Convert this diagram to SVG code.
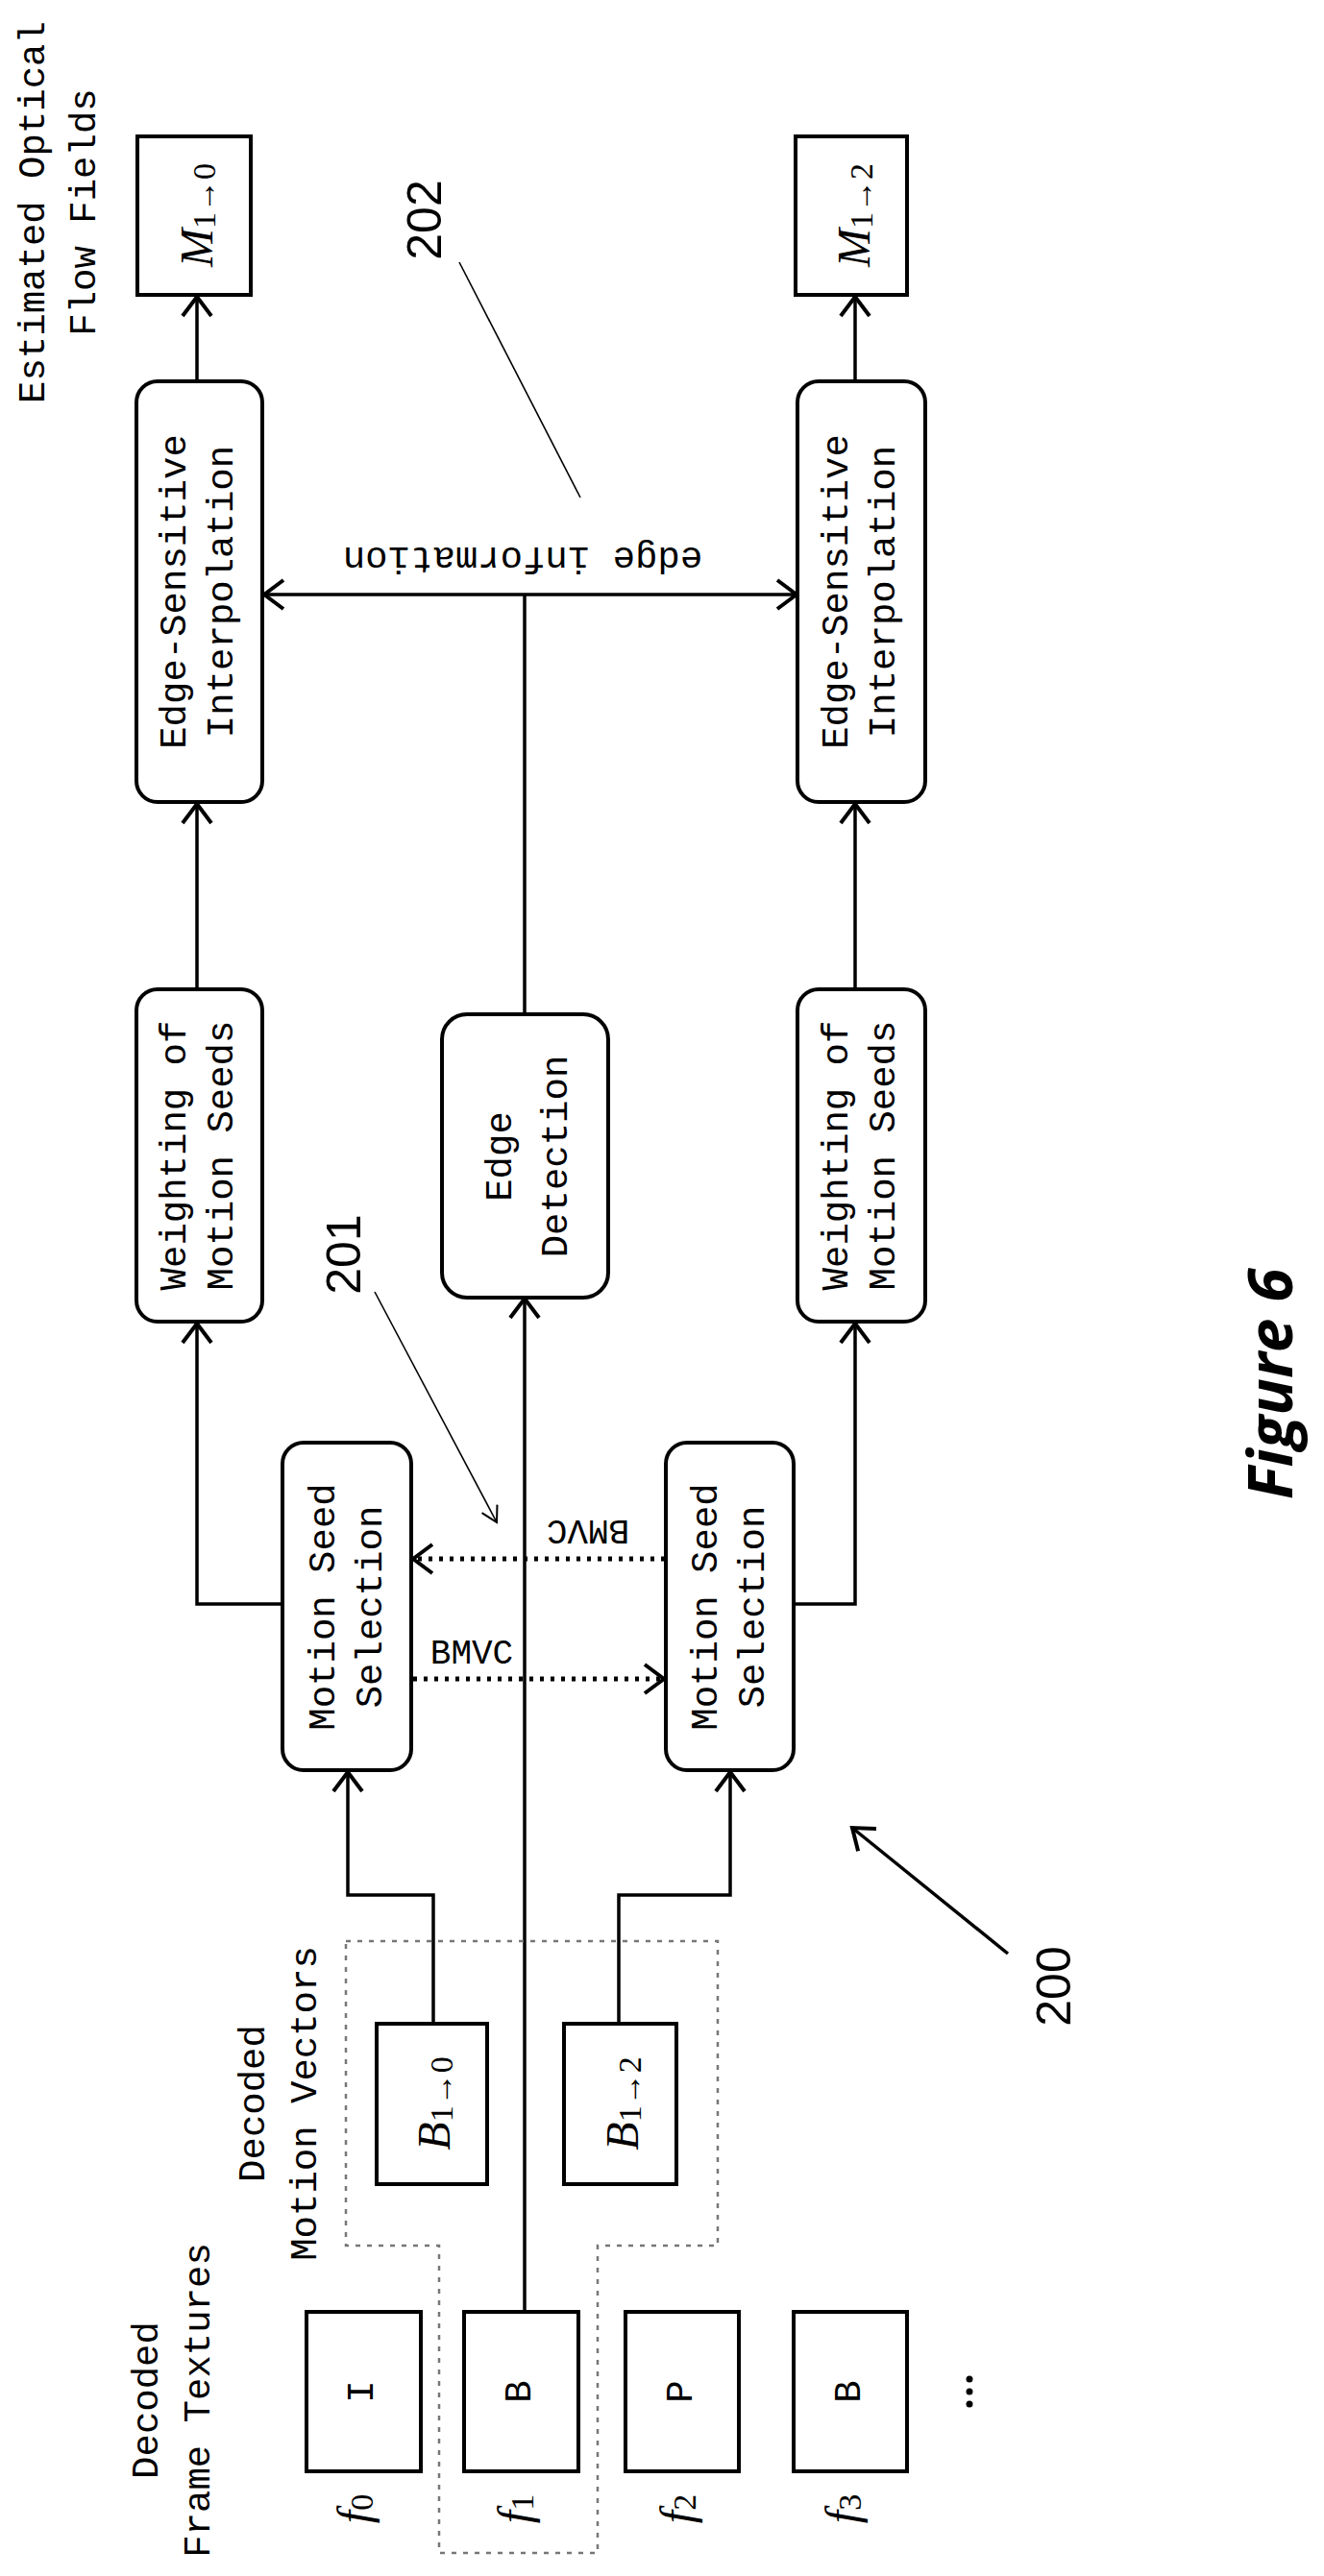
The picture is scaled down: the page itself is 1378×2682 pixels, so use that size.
<svg xmlns="http://www.w3.org/2000/svg" width="1378" height="2682" viewBox="0 0 1378 2682">
<style>
.box{fill:#fff;stroke:#000;stroke-width:4}
.ln{fill:none;stroke:#000;stroke-width:3.5}
.dot{fill:none;stroke:#000;stroke-width:5;stroke-dasharray:4 7}
.thin{fill:none;stroke:#000;stroke-width:1.6}
.mono{font-family:"Liberation Mono",monospace;font-size:39px;fill:#000;text-anchor:middle;dominant-baseline:central}
.sans{font-family:"Liberation Sans",Arial,sans-serif;font-size:50px;fill:#000;text-anchor:middle;dominant-baseline:central}
.math{font-family:"Liberation Serif",serif;font-style:italic;font-size:48px;fill:#000;text-anchor:middle;dominant-baseline:central}
.sub{font-size:34px;font-style:normal}
</style>
<defs>
<marker id="ah" markerUnits="userSpaceOnUse" markerWidth="34" markerHeight="34" viewBox="0 0 34 34" refX="31" refY="17" orient="auto">
<path d="M11,2 L31,17 L11,32" fill="none" stroke="#000" stroke-width="4"/>
</marker>
<marker id="as" markerUnits="userSpaceOnUse" markerWidth="24" markerHeight="24" viewBox="0 0 24 24" refX="22" refY="12" orient="auto">
<path d="M6,3 L22,12 L6,21" fill="none" stroke="#000" stroke-width="2"/>
</marker>
</defs>

<g id="connectors">
<path class="ln" d="M205,397 V309" marker-end="url(#ah)"/>
<path class="ln" d="M890,397 V309" marker-end="url(#ah)"/>
<path class="ln" d="M205,1030 V837" marker-end="url(#ah)"/>
<path class="ln" d="M890,1030 V837" marker-end="url(#ah)"/>
<path class="ln" d="M294,1670 H205 V1378" marker-end="url(#ah)"/>
<path class="ln" d="M826,1670 H890 V1378" marker-end="url(#ah)"/>
<path class="ln" d="M546,1056 V619"/>
<path class="ln" d="M546,619 H275" marker-end="url(#ah)"/>
<path class="ln" d="M546,619 H829" marker-end="url(#ah)"/>
<path class="ln" d="M546,2407 V1352" marker-end="url(#ah)"/>
<path class="ln" d="M451,2107 V1973 H362 V1845" marker-end="url(#ah)"/>
<path class="ln" d="M644,2107 V1973 H760 V1845" marker-end="url(#ah)"/>
<path class="dot" d="M430,1748 H691" marker-end="url(#ah)"/>
<path class="dot" d="M692,1623 H430" marker-end="url(#ah)"/>
<path class="thin" d="M390,1345 L517,1585" marker-end="url(#as)"/>
<path class="thin" d="M478,273 L604,518"/>
<path class="ln" d="M1049,2034 L887,1903" marker-end="url(#ah)"/>
<path d="M360,2021 H747 V2338 H622 V2658 H457 V2338 H360 Z" fill="none" stroke="#777" stroke-width="2.5" stroke-dasharray="5 7"/>
</g>

<g id="estimated-label" transform="translate(62,221) rotate(-90)">
<text class="mono" x="0" y="-26">Estimated Optical</text>
<text class="mono" x="0" y="27">Flow Fields</text>
</g>

<g id="M10"><rect class="box" x="143" y="142" width="118" height="165"/>
<text class="math" transform="translate(204,224) rotate(-90)">M<tspan class="sub" dy="8">1→0</tspan></text></g>
<g id="M12"><rect class="box" x="828" y="142" width="116" height="165"/>
<text class="math" transform="translate(888,224) rotate(-90)">M<tspan class="sub" dy="8">1→2</tspan></text></g>

<g id="esi1"><rect class="box" x="142" y="397" width="131" height="438" rx="22"/>
<g transform="translate(207,616) rotate(-90)"><text class="mono" y="-24">Edge-Sensitive</text><text class="mono" y="25">Interpolation</text></g></g>
<g id="esi2"><rect class="box" x="830" y="397" width="133" height="438" rx="22"/>
<g transform="translate(896,616) rotate(-90)"><text class="mono" y="-24">Edge-Sensitive</text><text class="mono" y="25">Interpolation</text></g></g>

<g id="edge-info-label"><text class="mono" transform="translate(544,580) rotate(180)">edge information</text></g>
<g id="ref202"><text class="sans" transform="translate(442,229) rotate(-90)">202</text></g>

<g id="w1"><rect class="box" x="142" y="1030" width="131" height="346" rx="22"/>
<g transform="translate(207,1203) rotate(-90)"><text class="mono" y="-24">Weighting of</text><text class="mono" y="25">Motion Seeds</text></g></g>
<g id="w2"><rect class="box" x="830" y="1030" width="133" height="346" rx="22"/>
<g transform="translate(896,1203) rotate(-90)"><text class="mono" y="-24">Weighting of</text><text class="mono" y="25">Motion Seeds</text></g></g>

<g id="edgedet"><rect class="box" x="460" y="1056" width="173" height="295" rx="26"/>
<g transform="translate(551,1204) rotate(-90)"><text class="mono" y="-29">Edge</text><text class="mono" y="29">Detection</text></g></g>

<g id="ref201"><text class="sans" transform="translate(358,1306) rotate(-90)">201</text></g>

<g id="mss1"><rect class="box" x="294" y="1502" width="134" height="341" rx="22"/>
<g transform="translate(362,1673) rotate(-90)"><text class="mono" y="-24">Motion Seed</text><text class="mono" y="25">Selection</text></g></g>
<g id="mss2"><rect class="box" x="693" y="1502" width="133" height="341" rx="22"/>
<g transform="translate(760,1673) rotate(-90)"><text class="mono" y="-24">Motion Seed</text><text class="mono" y="25">Selection</text></g></g>

<g id="bmvc-labels">
<text class="mono" style="font-size:36px" x="491" y="1722">BMVC</text>
<text class="mono" style="font-size:36px" transform="translate(612,1592) rotate(180)">BMVC</text>
</g>

<g id="figure-label"><text transform="translate(1345,1441) rotate(-90)" style="font-family:'Open Sans',sans-serif;font-weight:bold;font-style:italic;font-size:64px;text-anchor:middle">Figure 6</text></g>

<g id="ref200"><text class="sans" transform="translate(1097,2068) rotate(-90)">200</text></g>

<g id="dmv-label" transform="translate(292,2190) rotate(-90)">
<text class="mono" y="-27">Decoded</text><text class="mono" y="27">Motion Vectors</text></g>

<g id="B10"><rect class="box" x="392" y="2107" width="115" height="167"/>
<text class="math" transform="translate(451,2190) rotate(-90)">B<tspan class="sub" dy="8">1→0</tspan></text></g>
<g id="B12"><rect class="box" x="587" y="2107" width="117" height="167"/>
<text class="math" transform="translate(647,2190) rotate(-90)">B<tspan class="sub" dy="8">1→2</tspan></text></g>

<g id="dft-label" transform="translate(181,2499) rotate(-90)">
<text class="mono" y="-27">Decoded</text><text class="mono" y="27">Frame Textures</text></g>

<g id="f0"><rect class="box" x="319" y="2407" width="119" height="166"/>
<text class="mono" transform="translate(378,2490) rotate(-90)">I</text>
<text class="math" transform="translate(368,2612) rotate(-90)">f<tspan class="sub" dy="8">0</tspan></text></g>
<g id="f1"><rect class="box" x="483" y="2407" width="119" height="166"/>
<text class="mono" transform="translate(542,2490) rotate(-90)">B</text>
<text class="math" transform="translate(535,2612) rotate(-90)">f<tspan class="sub" dy="8">1</tspan></text></g>
<g id="f2"><rect class="box" x="651" y="2407" width="118" height="166"/>
<text class="mono" transform="translate(710,2490) rotate(-90)">P</text>
<text class="math" transform="translate(704,2612) rotate(-90)">f<tspan class="sub" dy="8">2</tspan></text></g>
<g id="f3"><rect class="box" x="826" y="2407" width="118" height="166"/>
<text class="mono" transform="translate(885,2490) rotate(-90)">B</text>
<text class="math" transform="translate(876,2612) rotate(-90)">f<tspan class="sub" dy="8">3</tspan></text></g>
<g id="ellipsis"><circle cx="1009" cy="2477" r="3.5"/><circle cx="1009" cy="2490" r="3.5"/><circle cx="1009" cy="2503" r="3.5"/></g>
</svg>
